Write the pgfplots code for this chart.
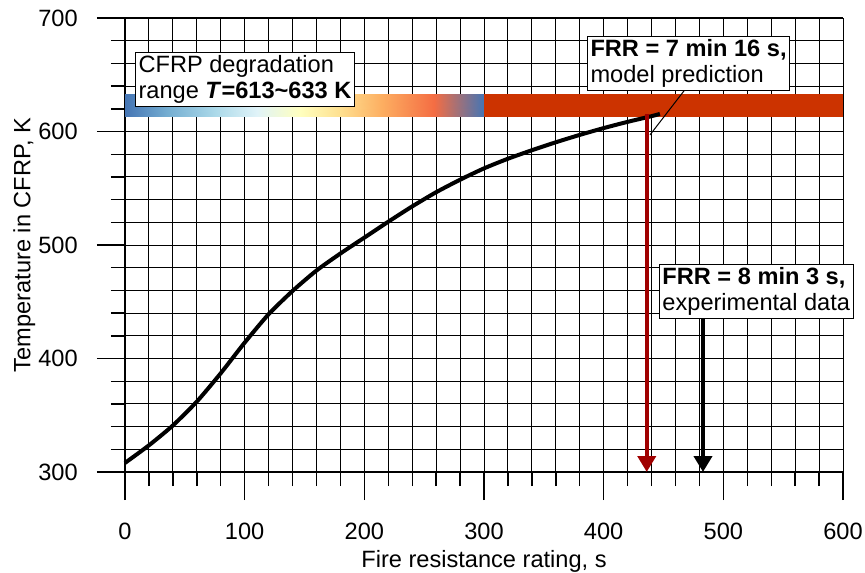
\documentclass[border=0pt]{standalone}
\usepackage{fontspec}
\setmainfont{Liberation Sans}
\usepackage{pgfplots}
\pgfplotsset{compat=1.18}
\usetikzlibrary{arrows.meta}
\definecolor{bandred}{RGB}{204,51,0}
\definecolor{arrred}{RGB}{160,0,0}
\begin{document}
\fontsize{11.8}{13}\selectfont
\begin{tikzpicture}
\useasboundingbox (-62.5pt,-50pt) rectangle (370pt,236pt);
\begin{axis}[
  at={(0,0)}, anchor=south west,
  scale only axis, width=359pt, height=227pt,
  xmin=0, xmax=600, ymin=300, ymax=700,
  xtick={0,100,...,600}, ytick={300,400,...,700},
  minor x tick num=4, minor y tick num=4,
  grid=both,
  major grid style={black, line width=0.5pt},
  minor grid style={black, line width=0.5pt},
  axis lines=left,
  axis line style={-, line width=1pt},
  tick align=outside,
  major tick length=14pt, minor tick length=7pt,
  every tick/.style={black, line width=0.7pt},
  tick label style={font=\fontsize{11.8}{13}\selectfont},
  label style={font=\fontsize{11.8}{13}\selectfont},
  xticklabel shift=7.5pt, yticklabel shift=5.5pt,
  xlabel shift=-3pt, ylabel shift=-6.5pt,
  /pgf/number format/assume math mode=true,
  xlabel={Fire resistance rating, s},
  ylabel={Temperature in CFRP, K},
  clip=false,
  colormap={cfrp}{rgb255(0)=(69,117,180) rgb255(35)=(116,173,209) rgb255(75)=(171,217,233) rgb255(110)=(224,243,248) rgb255(146)=(255,255,191) rgb255(180)=(254,224,144) rgb255(215)=(253,174,97) rgb255(258)=(244,109,67) rgb255(300)=(69,117,180)},
  point meta min=0, point meta max=300,
]
% gradient degradation range
\addplot[surf, shader=interp, point meta=x] coordinates {
(0,613) (35,613) (75,613) (110,613) (146,613) (180,613) (215,613) (258,613) (300,613)

(0,633) (35,633) (75,633) (110,633) (146,633) (180,633) (215,633) (258,633) (300,633)
};
\addplot[draw=none, fill=bandred] coordinates {(300,613) (600,613) (600,633) (300,633)} -- cycle;
% temperature curve
\addplot[black, line width=2pt, smooth, tension=0.4] coordinates {
(0,308) (20,323.5) (40,341) (60,362) (80,387) (100,414) (120,439)
(140,459.5) (160,477.5) (180,492.5) (200,506.5) (220,520.5) (240,534) (260,546.5)
(280,557.5) (300,567.5) (320,576) (340,583.5) (360,590.5) (380,597)
(400,603) (420,608.5) (440,613.5) (447,615.5)
};
% arrows
\addplot[arrred, line width=2pt, -{Triangle[width=9pt,length=8pt]}] coordinates {(436,615) (436,300)};
\addplot[black, line width=2pt, -{Triangle[width=9pt,length=8pt]}] coordinates {(483,437) (483,300)};
% annotations
\draw[black, line width=0.5pt] (axis cs:468,637) -- (axis cs:438.7,597);
\node[draw, fill=white, line width=0.5pt, anchor=north west, align=left, inner sep=1.5pt, font=\fontsize{11.8}{13}\selectfont] at (axis cs:8.4,670) {CFRP degradation\\range \textbf{\textit{T}=613\textasciitilde 633 K}};
\node[draw, fill=white, line width=0.5pt, anchor=north west, align=left, inner sep=1.5pt, font=\fontsize{11.8}{13}\selectfont] at (axis cs:386.1,684.1) {\textbf{FRR = 7 min 16 s,}\\model prediction};
\node[draw, fill=white, line width=0.5pt, anchor=north west, align=left, inner sep=1.5pt, font=\fontsize{11.8}{13}\selectfont] at (axis cs:446.2,483.3) {\textbf{FRR = 8 min 3 s,}\\experimental data};
\end{axis}
\end{tikzpicture}
\end{document}
